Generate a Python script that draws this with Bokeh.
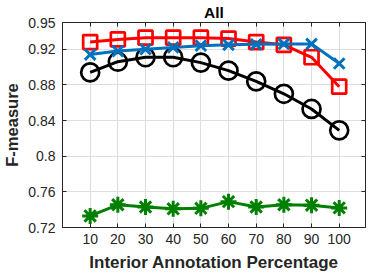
from bokeh.plotting import figure
from bokeh.models import Range1d, FixedTicker, LinearAxis
from bokeh.embed import file_html
from bokeh.resources import INLINE

x_pct = [10, 20, 30, 40, 50, 60, 70, 80, 90, 100]
black_circle = [0.894, 0.906, 0.911, 0.911, 0.905, 0.896, 0.884, 0.870, 0.853, 0.829]
red_square = [0.928, 0.931, 0.933, 0.933, 0.933, 0.932, 0.928, 0.925, 0.911, 0.878]
blue_x = [0.914, 0.918, 0.920, 0.922, 0.924, 0.925, 0.9255, 0.926, 0.926, 0.904]
green_star = [0.733, 0.7455, 0.743, 0.741, 0.7415, 0.749, 0.743, 0.7455, 0.745, 0.742]
y_ticks = [0.72, 0.76, 0.8, 0.84, 0.88, 0.92, 0.95]
x_ticks = [10, 20, 30, 40, 50, 60, 70, 80, 90, 100]

FONT = "Liberation Sans"
AX = "#262626"

p = figure(width=370, height=274, output_backend="svg", toolbar_location=None,
           x_range=Range1d(0, 109.5), y_range=Range1d(0.72, 0.95),
           min_border_left=61, min_border_right=5, min_border_top=22, min_border_bottom=46,
           title="All")
p.title.align = "center"
p.title.text_font = FONT
p.title.text_font_style = "bold"
p.title.text_font_size = "15.5px"
p.title.text_color = "black"
p.title.standoff = 3
p.title.offset = 0
p.outline_line_color = AX
p.outline_line_width = 1
p.background_fill_color = "white"
p.border_fill_color = "white"

for ax in (p.xaxis[0], p.yaxis[0]):
    ax.major_label_text_font = FONT
    ax.major_label_text_font_size = "14px"
    ax.major_label_text_color = AX
    ax.axis_label_text_font = FONT
    ax.axis_label_text_font_style = "bold"
    ax.axis_label_text_color = AX
    ax.axis_line_color = AX
    ax.major_tick_line_color = AX
    ax.major_tick_in = 4
    ax.major_tick_out = 0
    ax.minor_tick_line_color = None

p.xaxis.axis_label_text_font_size = "17px"
p.yaxis.axis_label_text_font_size = "16.5px"
p.xaxis.ticker = FixedTicker(ticks=x_ticks)
p.yaxis.ticker = FixedTicker(ticks=y_ticks)
p.yaxis.major_label_overrides = {0.8: "0.8"}
p.xaxis.axis_label = "Interior Annotation Percentage"
p.yaxis.axis_label = "F-measure"
p.xaxis.major_label_standoff = 6
p.xaxis.axis_label_standoff = 6
p.yaxis.major_label_standoff = 7
p.yaxis.axis_label_standoff = 4

for loc, tk in (("right", y_ticks), ("above", x_ticks)):
    a = LinearAxis(ticker=FixedTicker(ticks=tk), major_label_text_font_size="0px",
                   major_label_text_color=None, axis_line_color=AX, major_tick_line_color=AX,
                   major_tick_in=4, major_tick_out=0, minor_tick_line_color=None,
                   major_label_standoff=0)
    p.add_layout(a, loc)

p.xgrid.ticker = FixedTicker(ticks=x_ticks)
p.ygrid.ticker = FixedTicker(ticks=y_ticks)
p.xgrid.grid_line_color = "#dedede"
p.ygrid.grid_line_color = "#dedede"

LW = 3
p.line(x_pct, black_circle, color="black", line_width=LW)
p.scatter(x_pct, black_circle, marker="circle", size=18, fill_color=None, line_color="black", line_width=2.7)

p.line(x_pct, red_square, color="#ff0000", line_width=LW)
p.scatter(x_pct, red_square, marker="square", size=14, fill_color=None, line_color="#ff0000", line_width=2.7)

p.line(x_pct, blue_x, color="#0072bd", line_width=LW)
p.scatter(x_pct, blue_x, marker="x", size=15, line_color="#0072bd", line_width=3)

p.line(x_pct, green_star, color="#008000", line_width=LW)
p.scatter(x_pct, green_star, marker="asterisk", size=16, line_color="#008000", line_width=3)

open("out.html", "w").write(file_html(p, INLINE))
